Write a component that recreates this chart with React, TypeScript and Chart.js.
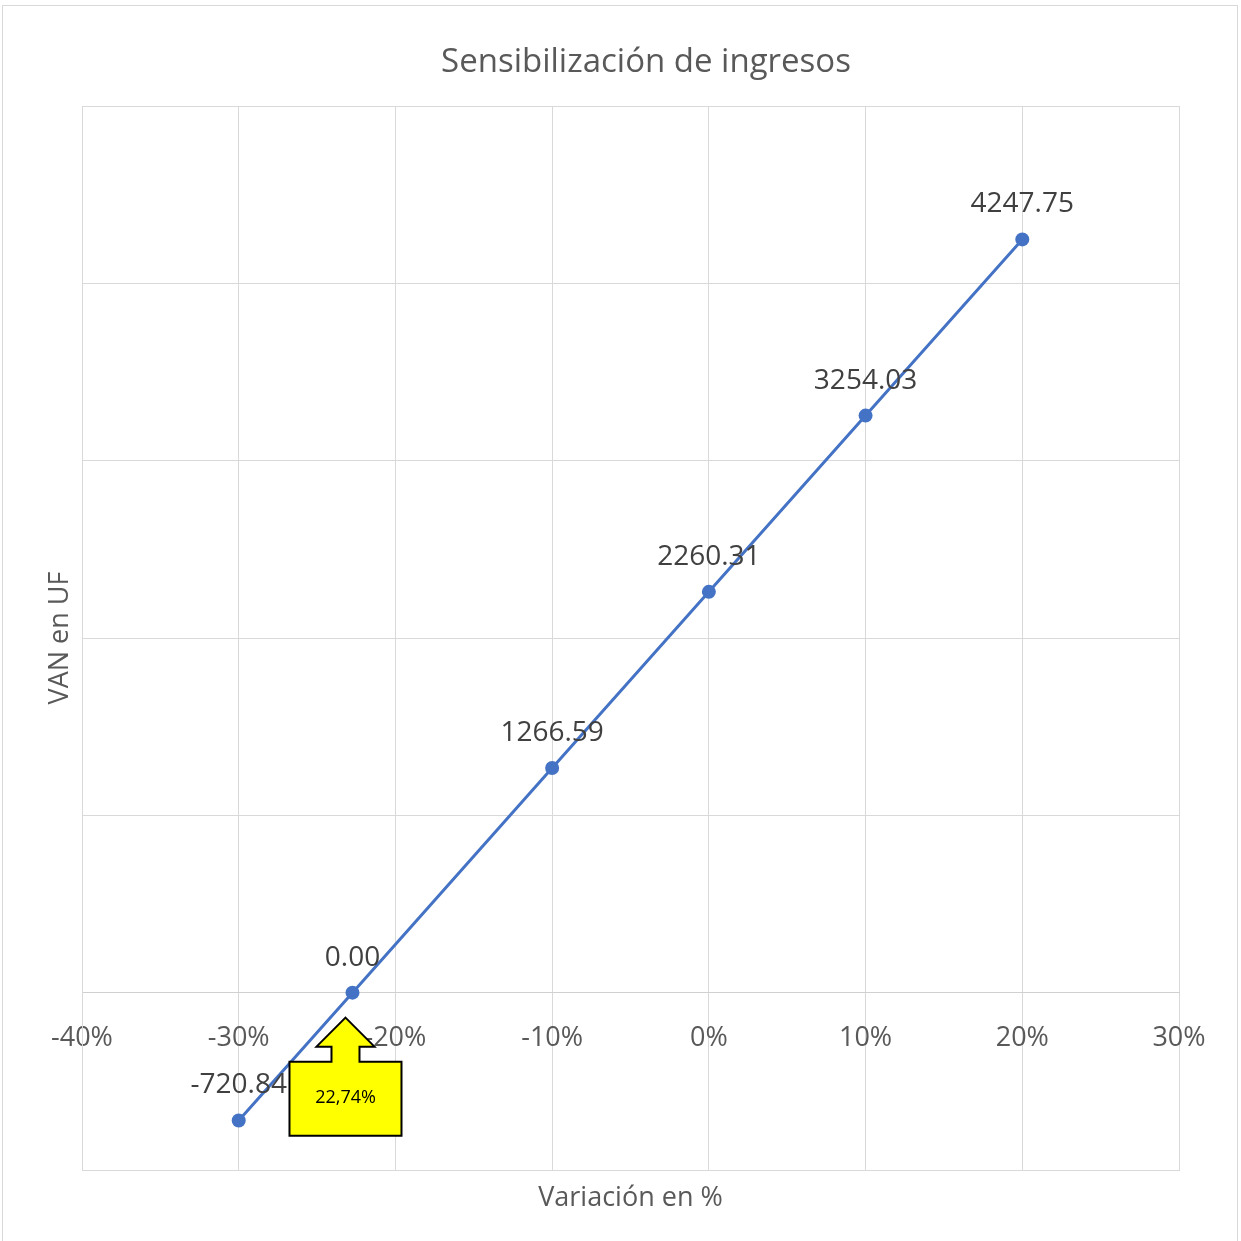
import React, { useEffect, useRef } from "react";
import { Chart, registerables } from "chart.js";

Chart.register(...registerables);

const variations = [-30, -22.74, -10, 0, 10, 20];
const vanValues = [-720.84, 0.0, 1266.59, 2260.31, 3254.03, 4247.75];
const chartTitle = "Sensibilización de ingresos";
const xTitle = "Variación en %";
const yTitle = "VAN en UF";
const calloutText = "22,74%";
const calloutAnchor = { x: -22.74, y: 0 };

const FONT = "'Open Sans', Lato, sans-serif";

const labelPlugin = {
  id: "pointLabels",
  afterDatasetsDraw(chart: any) {
    const ctx = chart.ctx;
    const meta = chart.getDatasetMeta(0);
    ctx.save();
    ctx.font = `28px ${FONT}`;
    ctx.fillStyle = "#404040";
    ctx.textAlign = "center";
    ctx.textBaseline = "middle";
    meta.data.forEach((pt: any, i: number) => {
      ctx.fillText(vanValues[i].toFixed(2), pt.x, pt.y - 35);
    });
    // callout
    const xs = chart.scales.x;
    const ys = chart.scales.y;
    const ax = xs.getPixelForValue(calloutAnchor.x);
    const ay = ys.getPixelForValue(calloutAnchor.y);
    const tipX = ax - 7;
    const tipY = ay + 25;
    const headY = tipY + 29;
    const boxTop = tipY + 44;
    const boxBottom = tipY + 118;
    const boxL = tipX - 56;
    const boxR = tipX + 56;
    ctx.beginPath();
    ctx.moveTo(tipX, tipY);
    ctx.lineTo(tipX + 29, headY);
    ctx.lineTo(tipX + 14, headY);
    ctx.lineTo(tipX + 14, boxTop);
    ctx.lineTo(boxR, boxTop);
    ctx.lineTo(boxR, boxBottom);
    ctx.lineTo(boxL, boxBottom);
    ctx.lineTo(boxL, boxTop);
    ctx.lineTo(tipX - 14, boxTop);
    ctx.lineTo(tipX - 14, headY);
    ctx.lineTo(tipX - 29, headY);
    ctx.closePath();
    ctx.fillStyle = "#FFFF00";
    ctx.fill();
    ctx.lineWidth = 2;
    ctx.strokeStyle = "#000000";
    ctx.stroke();
    ctx.fillStyle = "#000000";
    ctx.font = `18px ${FONT}`;
    ctx.fillText(calloutText, tipX, (boxTop + boxBottom) / 2 - 1);
    ctx.restore();
  },
};

export default function App() {
  const ref = useRef<HTMLCanvasElement | null>(null);
  useEffect(() => {
    if (!ref.current) return;
    const chart = new Chart(ref.current, {
      type: "line",
      data: {
        datasets: [
          {
            data: variations.map((v, i) => ({ x: v, y: vanValues[i] })),
            borderColor: "#4472C4",
            backgroundColor: "#4472C4",
            borderWidth: 3,
            pointRadius: 7,
            pointHoverRadius: 7,
            pointBorderWidth: 0,
            tension: 0,
          },
        ],
      },
      options: {
        animation: false,
        responsive: false,
        maintainAspectRatio: false,
        layout: { padding: { left: 0, right: 0, top: 0, bottom: 0 } },
        plugins: {
          legend: { display: false },
          tooltip: { enabled: false },
          title: {
            display: true,
            text: chartTitle,
            color: "#595959",
            font: { family: FONT, size: 33, weight: "normal" },
            padding: { top: 43, bottom: 23.4 },
          },
        },
        scales: {
          x: {
            type: "linear",
            position: { y: 0 } as any,
            min: -40,
            max: 30,
            grid: { display: false, drawTicks: false },
            border: { display: true, color: "#d0d0d0", width: 1 },
            ticks: {
              stepSize: 10,
              padding: 29,
              color: "#595959",
              font: { family: FONT, size: 27 },
              callback: (v: any) => `${v}%`,
            },
          },
          x2: {
            type: "linear",
            position: "bottom",
            min: -40,
            max: 30,
            grid: { color: "#d9d9d9", drawTicks: false, lineWidth: 1 },
            border: { display: true, color: "#d9d9d9" },
            ticks: { display: false, stepSize: 10 },
            title: {
              display: true,
              text: xTitle,
              color: "#595959",
              font: { family: FONT, size: 27 },
              padding: { top: 0, bottom: 26 },
            },
            afterFit: (s: any) => {
              s.height = 71;
            },
          },
          y: {
            type: "linear",
            min: -1000,
            max: 5000,
            grid: { color: "#d9d9d9", drawTicks: false, lineWidth: 1 },
            border: { display: true, color: "#d9d9d9" },
            ticks: { display: false, stepSize: 1000 },
            title: {
              display: true,
              text: yTitle,
              color: "#595959",
              font: { family: FONT, size: 27 },
              padding: { top: 44, bottom: 0 },
            },
            afterFit: (s: any) => {
              s.width = 82;
            },
          },
          yR: {
            type: "linear",
            position: "right",
            min: -1000,
            max: 5000,
            grid: { display: false, drawTicks: false },
            border: { display: false },
            ticks: { display: false },
            afterFit: (s: any) => {
              s.width = 113;
            },
          },
        },
      },
      plugins: [labelPlugin],
    });
    return () => chart.destroy();
  }, []);

  return (
    <div
      style={{
        position: "fixed",
        left: 0,
        top: 0,
        width: 1241,
        height: 1241,
        overflow: "hidden",
        background: "#ffffff",
      }}
    >
      <canvas
        ref={ref}
        width={1292}
        height={1241}
        style={{ position: "absolute", left: 0, top: 0, width: 1292, height: 1241 }}
      />
      <div
        style={{
          position: "absolute",
          left: 2,
          top: 5,
          width: 1234,
          height: 1260,
          border: "1px solid #d9d9d9",
          pointerEvents: "none",
        }}
      />
    </div>
  );
}
